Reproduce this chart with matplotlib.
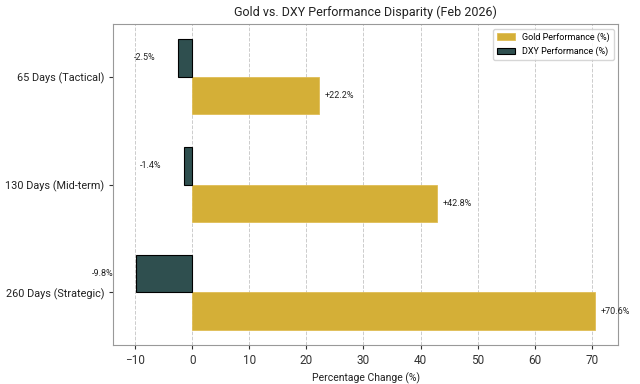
import numpy as np
import matplotlib.pyplot as plt

plt.rcParams['font.family'] = ['Roboto', 'DejaVu Sans']

periods = ['65 Days (Tactical)', '130 Days (Mid-term)', '260 Days (Strategic)']
gold = [22.2, 42.8, 70.6]
dxy = [-2.5, -1.4, -9.8]

y = np.arange(len(periods))
h = 0.35

fig, ax = plt.subplots(figsize=(6.4, 3.84), dpi=100)

b_gold = ax.barh(y + h / 2, gold, h, color='#D4AF37', edgecolor='#E0BE55',
                 linewidth=0.6, label='Gold Performance (%)')
b_dxy = ax.barh(y - h / 2, dxy, h, color='#2F4F4F', edgecolor='black',
                linewidth=0.8, label='DXY Performance (%)')

for yy, v in zip(y, gold):
    ax.text(v + 1, yy + h / 2, f'+{v:.1f}%', va='center', ha='left',
            fontsize=6.5, color='#222222')
for yy, v in zip(y, dxy):
    ax.text(v - 4, yy - h / 2, f'{v:.1f}%', va='center', ha='right',
            fontsize=6.5, color='#222222')

ax.set_yticks(y)
ax.set_yticklabels(periods, fontsize=7.8)
ax.invert_yaxis()
ax.tick_params(axis='x', labelsize=8.5, colors='#333333', length=3)
ax.tick_params(axis='y', colors='#333333', length=3)
for lab in ax.get_yticklabels():
    lab.set_color('#222222')

ax.set_xlabel('Percentage Change (%)', fontsize=7.5, color='#222222')
ax.set_title('Gold vs. DXY Performance Disparity (Feb 2026)', fontsize=9,
             color='#222222')
ax.grid(axis='x', linestyle='--', color='#cccccc', linewidth=0.7)
ax.set_axisbelow(True)
for s in ax.spines.values():
    s.set_color('#999999')

ax.legend(loc='upper right', fontsize=6.5, frameon=True, edgecolor='#cccccc')

fig.subplots_adjust(left=0.177, right=0.966, top=0.937, bottom=0.102)
plt.savefig('out.png', dpi=100)
